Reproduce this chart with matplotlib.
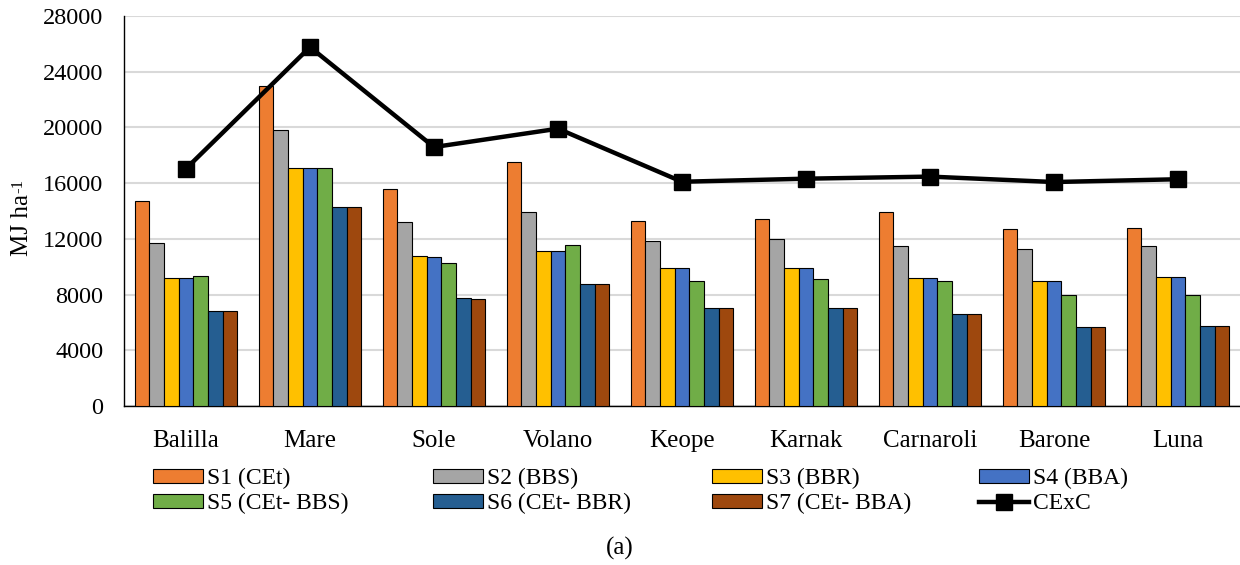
import matplotlib
matplotlib.use("Agg")
import matplotlib.pyplot as plt
import numpy as np

plt.rcParams['font.family'] = ['Liberation Serif', 'DejaVu Serif']

categories = ["Balilla", "Mare", "Sole", "Volano", "Keope", "Karnak", "Carnaroli", "Barone", "Luna"]
series_names = ["S1 (CEt)", "S2 (BBS)", "S3 (BBR)", "S4 (BBA)",
                "S5 (CEt- BBS)", "S6 (CEt- BBR)", "S7 (CEt- BBA)"]
S1 = [14720, 22970, 15550, 17520, 13260, 13450, 13900, 12730, 12780]
S2 = [11680, 19840, 13230, 13950, 11850, 11970, 11490, 11250, 11490]
S3 = [9210, 17060, 10770, 11150, 9880, 9930, 9210, 9000, 9240]
S4 = [9170, 17060, 10720, 11100, 9880, 9930, 9170, 8950, 9240]
S5 = [9360, 17060, 10240, 11560, 9000, 9100, 8950, 7950, 8000]
S6 = [6840, 14310, 7750, 8780, 7040, 7060, 6630, 5670, 5720]
S7 = [6820, 14290, 7710, 8760, 7010, 7060, 6630, 5650, 5720]
CExC = [17040, 25770, 18590, 19910, 16100, 16320, 16470, 16080, 16280]
yticks = [0, 4000, 8000, 12000, 16000, 20000, 24000, 28000]

colors = ["#ED7D31", "#A5A5A5", "#FFC000", "#4472C4", "#70AD47", "#255E91", "#9E480E"]
series = [S1, S2, S3, S4, S5, S6, S7]

W, H = 1240, 565
fig = plt.figure(figsize=(W / 100, H / 100), dpi=100)
ax = fig.add_axes([124 / W, 1 - 406 / H, 1 - 124 / W, 390 / H])

x = np.arange(len(categories))
n = len(series)
bw = 0.118
handles = {}
for i, (vals, c, name) in enumerate(zip(series, colors, series_names)):
    off = (i - (n - 1) / 2) * bw
    h = ax.bar(x + off, vals, width=bw, color=c, edgecolor="black", linewidth=0.8,
               label=name, zorder=3)
    handles[name] = h

ln, = ax.plot(x, CExC, color="black", linewidth=3.2, marker="s", markersize=12,
              label="CExC", zorder=4)
handles["CExC"] = ln

ax.set_xlim(-0.5, len(categories) - 0.5)
ax.set_ylim(0, 28000)
ax.set_yticks(yticks)
ax.set_yticklabels([str(t) for t in yticks])
ax.set_xticks(x)
ax.set_xticklabels(categories)
ax.tick_params(axis='both', length=0)
ax.tick_params(axis='x', pad=17, labelsize=18)
ax.tick_params(axis='y', pad=15, labelsize=17.5)
ax.yaxis.grid(True, color="#D9D9D9", linewidth=1.5, zorder=0)
ax.set_axisbelow(True)
for s in ["top", "right"]:
    ax.spines[s].set_visible(False)
ax.spines["left"].set_color("black")
ax.spines["bottom"].set_color("black")
ax.spines["left"].set_linewidth(1.0)
ax.spines["bottom"].set_linewidth(1.0)

# y label "MJ ha-1" with hyphen superscript
ylab = fig.text(22 / W, 1 - 225 / H, "MJ ha", rotation=90, ha="center", va="center",
                fontsize=18)
fig.canvas.draw()
bb = ylab.get_window_extent(fig.canvas.get_renderer())
fig.text((bb.x0 - 1) / W, (bb.y1 + 1) / H, "-1", rotation=90, ha="left", va="bottom",
         fontsize=12)

columns = [["S1 (CEt)", "S5 (CEt- BBS)"], ["S2 (BBS)", "S6 (CEt- BBR)"],
           ["S3 (BBR)", "S7 (CEt- BBA)"], ["S4 (BBA)", "CExC"]]
col_x = [153, 433, 712, 979]
for labels, cx in zip(columns, col_x):
    fig.legend([handles[k] for k in labels], labels, ncol=1, frameon=False,
               loc="upper left", bbox_to_anchor=(cx / W, 1 - 468 / H),
               fontsize=17, handlelength=2.1, handleheight=0.5, handletextpad=0.2,
               labelspacing=0.17, borderaxespad=0, borderpad=0)

fig.text(0.5, 1 - 548 / H, "(a)", ha="center", va="center", fontsize=18)

fig.savefig("out.png", dpi=100)
